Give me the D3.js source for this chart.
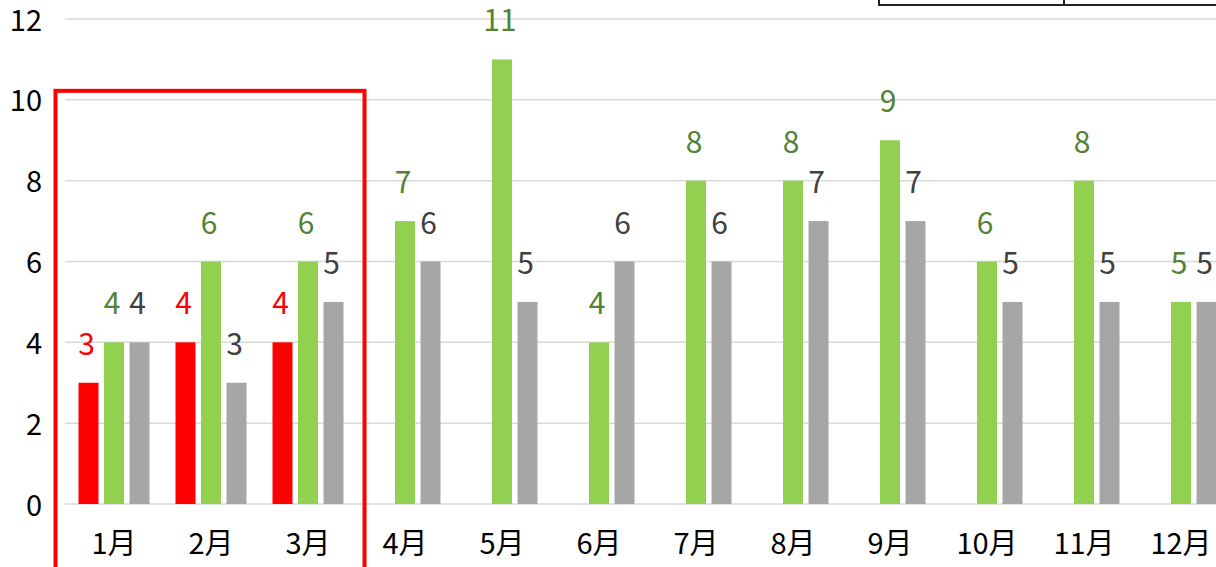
<!DOCTYPE html>
<html>
<head>
<meta charset="utf-8">
<script src="https://cdn.jsdelivr.net/npm/d3@7"></script>
<style>
  body { margin: 0; background: #fff; overflow: hidden; }
  svg { display: block; font-family: "Noto Sans CJK JP", "Liberation Sans", sans-serif; }
</style>
</head>
<body>
<script>
// chart data
const months = ['1月', '2月', '3月', '4月', '5月', '6月', '7月', '8月', '9月', '10月', '11月', '12月']
const seriesNames = ['red', 'green', 'gray']
const redValues = [3, 4, 4, null, null, null, null, null, null, null, null, null]
const greenValues = [4, 6, 6, 7, 11, 4, 8, 8, 9, 6, 8, 5]
const grayValues = [4, 3, 5, 6, 5, 6, 6, 7, 7, 5, 5, 5]
const yTicks = [0, 2, 4, 6, 8, 10, 12]

const svgWidth = 1216
const svgHeight = 567

const colors = { red: '#ff0000', green: '#92d050', gray: '#a6a6a6' }
const labelColors = { red: '#ff0000', green: '#548235', gray: '#404040' }

const svg = d3.select('body')
    .append('svg')
    .attr('width', svgWidth)
    .attr('height', svgHeight)

// scales (plot runs off the right edge, like the cropped original)
const x0 = d3.scaleBand()
    .domain(months)
    .range([65.5, 65.5 + 97 * months.length])

const x1 = d3.scaleBand()
    .domain(seriesNames)
    .range([13, 84])
    .paddingInner(0.216)

const y = d3.scaleLinear()
    .domain([0, 12])
    .range([504, 19])

// gridlines
svg.append('g')
    .selectAll('line')
    .data(yTicks)
    .enter()
    .append('line')
    .attr('x1', 65)
    .attr('x2', svgWidth)
    .attr('y1', d => y(d))
    .attr('y2', d => y(d))
    .attr('stroke', '#d9d9d9')
    .attr('stroke-width', 1.5)

// y axis labels
const yAxis = d3.axisLeft(y).tickValues(yTicks).tickSize(0).tickPadding(0)
svg.append('g')
    .attr('transform', 'translate(42, 0)')
    .call(yAxis)
    .call(g => g.select('.domain').remove())
    .call(g => g.selectAll('text')
        .attr('font-size', 29)
        .attr('font-family', '"Noto Sans CJK JP", sans-serif')
        .attr('fill', '#000')
        .attr('dy', '0.38em'))

// x axis labels
const xAxis = d3.axisBottom(x0).tickSize(0).tickPadding(0)
svg.append('g')
    .attr('transform', 'translate(0, 530)')
    .call(xAxis)
    .call(g => g.select('.domain').remove())
    .call(g => g.selectAll('text')
        .attr('font-size', 29)
        .attr('font-family', '"Noto Sans CJK JP", sans-serif')
        .attr('fill', '#000')
        .attr('dy', '0.82em'))

// bar rows
const rows = months.map((m, i) => ({
    month: m,
    values: [
        { key: 'red', value: redValues[i] },
        { key: 'green', value: greenValues[i] },
        { key: 'gray', value: grayValues[i] }
    ].filter(d => d.value !== null)
}))

const groups = svg.append('g')
    .selectAll('g')
    .data(rows)
    .enter()
    .append('g')
    .attr('transform', d => `translate(${x0(d.month)}, 0)`)

groups.selectAll('rect')
    .data(d => d.values)
    .enter()
    .append('rect')
    .attr('x', d => x1(d.key))
    .attr('y', d => y(d.value))
    .attr('width', x1.bandwidth())
    .attr('height', d => y(0) - y(d.value))
    .attr('fill', d => colors[d.key])

groups.selectAll('text')
    .data(d => d.values)
    .enter()
    .append('text')
    .attr('x', d => x1(d.key) + x1.bandwidth() / 2 - 2)
    .attr('y', d => y(d.value) - 28)
    .attr('text-anchor', 'middle')
    .attr('font-size', 30)
    .attr('font-family', '"Noto Sans CJK JP", sans-serif')
    .attr('fill', d => labelColors[d.key])
    .text(d => d.value)

// red highlight box round Jan-Mar
svg.append('rect')
    .attr('x', x0('1月') - 10)
    .attr('y', y(10) - 9)
    .attr('width', x0('3月') + x0.bandwidth() - x0('1月') + 18)
    .attr('height', 600)
    .attr('fill', 'none')
    .attr('stroke', '#ff0000')
    .attr('stroke-width', 4)

// bottom edge of the table box, cut off at the top
svg.append('rect')
    .attr('x', 879)
    .attr('y', -40)
    .attr('width', 400)
    .attr('height', 45)
    .attr('fill', 'none')
    .attr('stroke', '#222')
    .attr('stroke-width', 2)
svg.append('line')
    .attr('x1', 1064).attr('x2', 1064)
    .attr('y1', 0).attr('y2', 5)
    .attr('stroke', '#222')
    .attr('stroke-width', 2)
</script>
</body>
</html>
